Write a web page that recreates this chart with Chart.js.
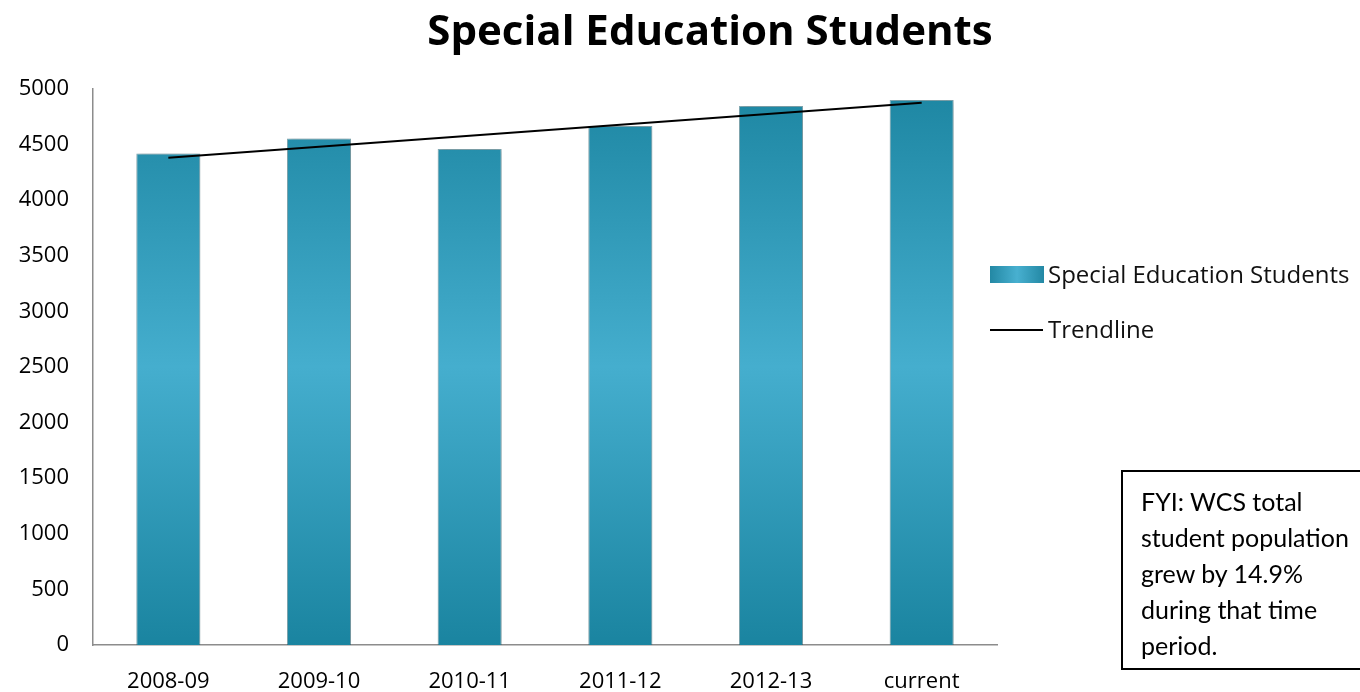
<!DOCTYPE html>
<html>
<head>
<meta charset="utf-8">
<script src="https://cdn.jsdelivr.net/npm/chart.js@4.4.0/dist/chart.umd.min.js"></script>
<style>
  html, body { margin: 0; background: #fff; overflow: hidden; width: 1360px; height: 692px; }
  #wrap { position: relative; width: 1360px; height: 692px; overflow: hidden; clip-path: inset(0); }
  #title { position: absolute; left: 0; top: 0px; width: 1420px; text-align: center;
           font: bold 42px "Open Sans", sans-serif; color: #000; }
  #legend { position: absolute; left: 990px; top: 257px; font: 24px "Open Sans", sans-serif; color: #111; }
  #legend div { height: 55px; display: flex; align-items: flex-start; white-space: nowrap; }
  #legend .box { width: 54px; height: 17px; margin-top: 9px; margin-right: 4px;
                 background: linear-gradient(to right, #2388a4, #48b0d0 50%, #2388a4); }
  #legend .line { width: 53px; height: 2px; margin-top: 17px; margin-right: 5px; background: #000; }
  #fyi { position: absolute; left: 1121px; top: 470px; right: -120px; height: 200px;
         border-top: 2px solid #000; border-left: 2px solid #000; border-bottom: 2px solid #000;
         padding: 11px 0 0 18px; box-sizing: border-box;
         font: 25px "Lato", sans-serif; line-height: 36px; color: #000; white-space: nowrap; }
</style>
</head>
<body>
<div id="wrap">
  <canvas id="chart" width="1360" height="692"></canvas>
  <div id="title">Special Education Students</div>
  <div id="legend"></div>
  <div id="fyi">FYI: WCS total<br>student population<br>grew by 14.9%<br>during that time<br>period.</div>
</div>
<script>
// 데이터
const years = ['2008-09', '2009-10', '2010-11', '2011-12', '2012-13', 'current'];
const students = [4420, 4555, 4460, 4667, 4847, 4901];
// 추세선: 처음과 끝 값만 읽어서 직선으로 연결
const trend = [4382, null, null, null, null, 4877];
const yTicks = [0, 500, 1000, 1500, 2000, 2500, 3000, 3500, 4000, 4500, 5000];

// 막대 세로 그라데이션 (위/아래 진하고 가운데 밝게)
function barGradient(context) {
    const chart = context.chart;
    const area = chart.chartArea;
    if (!area) return '#2f9bba';
    const g = chart.ctx.createLinearGradient(0, area.top, 0, area.bottom);
    g.addColorStop(0, '#1d86a2');
    g.addColorStop(0.5, '#45aece');
    g.addColorStop(1, '#1a84a0');
    return g;
}

// 막대 그림자
const barShadow = {
    id: 'barShadow',
    beforeDatasetDraw(chart, args) {
        if (args.index !== 1) return;
        const ctx = chart.ctx;
        ctx.save();
        ctx.shadowColor = 'rgba(0,0,0,0.25)';
        ctx.shadowBlur = 6;
        ctx.shadowOffsetX = 1;
    },
    afterDatasetDraw(chart, args) {
        if (args.index !== 1) return;
        chart.ctx.restore();
    }
};

const ctx = document.getElementById('chart').getContext('2d');
const chart = new Chart(ctx, {
    type: 'bar',
    data: {
        labels: years,
        datasets: [
            {
                type: 'line',
                label: 'Trendline',
                data: trend,
                borderColor: '#000',
                borderWidth: 2,
                pointRadius: 0,
                spanGaps: true,
                order: 0
            },
            {
                label: 'Special Education Students',
                data: students,
                backgroundColor: barGradient,
                borderColor: 'rgba(20,100,120,0.5)',
                borderWidth: 1,
                barPercentage: 0.425,
                categoryPercentage: 1,
                order: 1
            }
        ]
    },
    options: {
        responsive: false,
        animation: false,
        layout: { padding: { top: 89, right: 363, left: 0, bottom: 0 } },
        plugins: {
            legend: { display: false },
            title: { display: false },
            tooltip: { enabled: false }
        },
        scales: {
            x: {
                grid: { display: false, drawTicks: false },
                border: { color: '#8c8c8c', width: 1.5 },
                ticks: { color: '#000', padding: 24, font: { family: 'Open Sans', size: 22 } },
                afterFit(scale) { scale.height = 47; }
            },
            y: {
                min: 0,
                max: 5000,
                afterBuildTicks(scale) { scale.ticks = yTicks.map(v => ({ value: v })); },
                grid: { display: false, drawTicks: false },
                border: { color: '#8c8c8c', width: 1.5 },
                ticks: {
                    color: '#000', padding: 24, font: { family: 'Open Sans', size: 22 },
                    callback: v => String(v)
                },
                afterFit(scale) { scale.width = 93; }
            }
        }
    },
    plugins: [barShadow]
});

// 범례 (오른쪽)
const legend = document.getElementById('legend');
legend.innerHTML =
    `<div><span class="box"></span>${chart.data.datasets[1].label}</div>` +
    `<div><span class="line"></span>${chart.data.datasets[0].label}</div>`;
</script>
</body>
</html>
